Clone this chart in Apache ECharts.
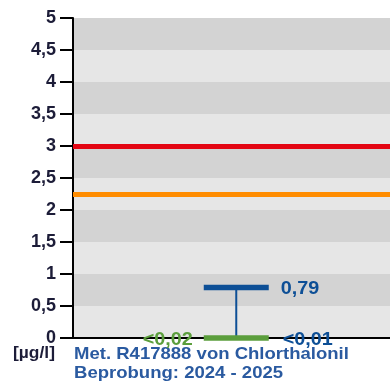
<!DOCTYPE html>
<html><head><meta charset="utf-8">
<script src="https://cdn.jsdelivr.net/npm/echarts@6/dist/echarts.min.js"></script>
<style>html,body{margin:0;padding:0;background:#fff}#c{width:390px;height:390px}</style>
</head><body><div id="c"></div>
<script>
// data
const yTicks = [0,0.5,1,1.5,2,2.5,3,3.5,4,4.5,5];
const thresholds = [3, 2.25];
const thresholdColors = ['#e30613', '#ff8c00'];
const measureX = [0.515];
const maxValues = [0.79];
const minValues = [0];
const medianValues = [0];
const maxLabels = ['0,79'];
const minLabels = ['<0,01'];
const medianLabels = ['<0,02'];
const unitLabel = '[µg/l]';
const title1 = 'Met. R417888 von Chlorthalonil';
const title2 = 'Beprobung: 2024 - 2025';

const chart = echarts.init(document.getElementById('c'));
const blue = '#0d4f96', green = '#5b9e3c';
const fontFam = 'Liberation Sans, Arial, sans-serif';
const data = measureX.map((x,i)=>[x, maxValues[i], minValues[i], medianValues[i], i]);
const lbl = (text, fill, align) => ({text, fill, fontSize:18, fontWeight:'bold', fontFamily:fontFam, align:align||'left', verticalAlign:'middle'});

chart.setOption({
  animation:false,
  grid:{left:73, right:0, top:18, bottom:52},
  xAxis:{type:'value', min:0, max:1, show:true,
    axisLine:{show:true, onZero:false, lineStyle:{color:'#000', width:2}},
    axisTick:{show:false}, axisLabel:{show:false}, splitLine:{show:false}},
  yAxis:{type:'value', min:yTicks[0], max:yTicks[yTicks.length-1], interval:0.5,
    axisLine:{show:true, lineStyle:{color:'#000', width:2}},
    axisTick:{show:true, length:13, lineStyle:{color:'#000', width:2}},
    axisLabel:{margin:17, color:'#1c1c38', fontSize:18, fontWeight:'bold', fontFamily:fontFam,
      formatter:v=>String(v).replace('.',',')},
    splitLine:{show:false},
    splitArea:{show:true, areaStyle:{color:['#e6e6e6','#d3d3d3']}}},
  series:[
    {type:'line', data:[], markLine:{silent:true, symbol:'none', label:{show:false},
      data: thresholds.map((t,i)=>({yAxis:t, lineStyle:{color:thresholdColors[i], width:5, type:'solid'}}))}},
    {type:'custom', data:data, clip:false,
      renderItem:(params, api)=>{
        const x = api.value(0), i = api.value(4);
        const pMax = api.coord([x, api.value(1)]);
        const pMin = api.coord([x, api.value(2)]);
        const pMed = api.coord([x, api.value(3)]);
        const hw = 32.5;
        return {type:'group', children:[
          {type:'line', shape:{x1:pMax[0], y1:pMax[1], x2:pMin[0], y2:pMin[1]}, style:{stroke:blue, lineWidth:2}},
          {type:'line', shape:{x1:pMax[0]-hw, y1:pMax[1], x2:pMax[0]+hw, y2:pMax[1]}, style:{stroke:blue, lineWidth:5.5}},
          {type:'line', shape:{x1:pMed[0]-hw, y1:pMed[1], x2:pMed[0]+hw, y2:pMed[1]}, style:{stroke:green, lineWidth:5.5}},
          {type:'text', x:pMax[0]+hw+12, y:pMax[1]+2, scaleX:1.1, style:lbl(maxLabels[i], blue)},
          {type:'text', x:pMin[0]+hw+14, y:pMin[1]+2, scaleX:1.1, style:lbl(minLabels[i], blue)},
          {type:'text', x:pMed[0]-hw-11, y:pMed[1]+2, scaleX:1.1, style:lbl(medianLabels[i], green, 'right')}
        ]};
      }}
  ],
  graphic:[
    {type:'text', x:13, y:346, scaleX:1.09, style:{text:unitLabel, fill:'#1c1c38', fontSize:16, fontWeight:'bold', fontFamily:fontFam}},
    {type:'text', x:74, y:346, scaleX:1.09, style:{text:title1, fill:'#2a5aa0', fontSize:17, fontWeight:'bold', fontFamily:fontFam}},
    {type:'text', x:74, y:365, scaleX:1.09, style:{text:title2, fill:'#2a5aa0', fontSize:17, fontWeight:'bold', fontFamily:fontFam}}
  ]
});
</script></body></html>
